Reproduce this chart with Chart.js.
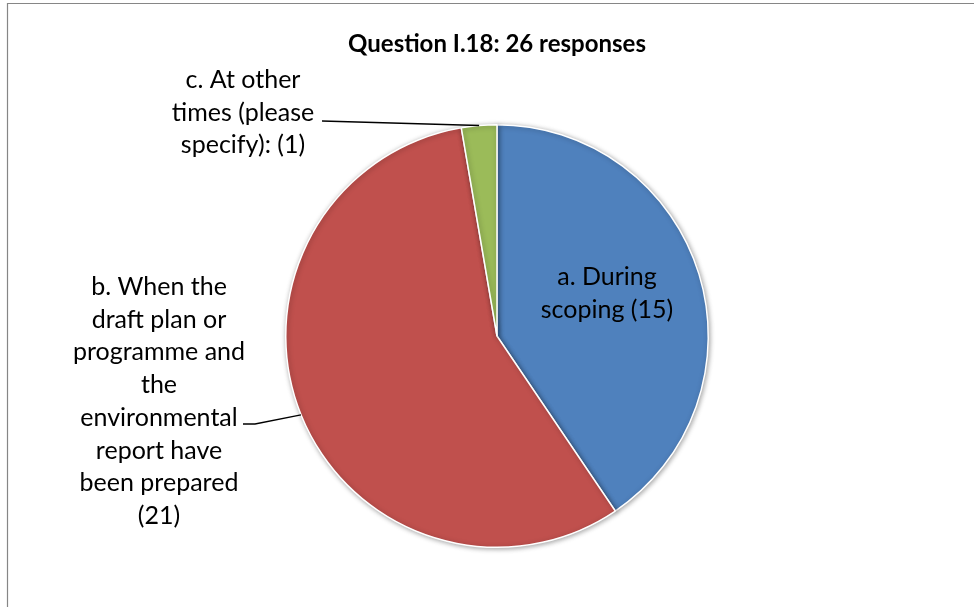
<!DOCTYPE html>
<html>
<head>
<meta charset="utf-8">
<script src="https://cdn.jsdelivr.net/npm/chart.js@4/dist/chart.umd.min.js"></script>
<style>
  body { margin: 0; background: #fff; }
  #wrap { width: 974px; height: 607px; }
</style>
</head>
<body>
<div id="wrap"><canvas id="graph_q18" width="974" height="607"></canvas></div>
<script>
/*------------------------------*/
/*      QUESTION I.18 PIE       */
/*------------------------------*/
var categories = [
  ['a. During', 'scoping (15)'],
  ['b. When the', 'draft plan or', 'programme and', 'the', 'environmental', 'report have', 'been prepared', '(21)'],
  ['c. At other', 'times (please', 'specify): (1)']
]
var responses = [15, 21, 1]
var colours = ['#4F81BD', '#C0504D', '#9BBB59']
var chartTitle = 'Question I.18: 26 responses'

var FONT = 'Lato, "Open Sans", sans-serif'

// where each label block sits, and where its leader line starts (null = inside the slice)
var labelLayout = [
  { x: 607, y: 277, line: null },
  { x: 159, y: 287, line: [[243, 424], [255, 424]] },
  { x: 243, y: 80, line: [[322, 121]] }
]

var framePlugin = {
  id: 'frame',
  beforeDraw: function (chart) {
    var c = chart.ctx
    c.save()
    c.fillStyle = '#fff'
    c.fillRect(0, 0, chart.width, chart.height)
    c.strokeStyle = '#868686'
    c.lineWidth = 1.2
    c.beginPath()
    c.moveTo(7.5, chart.height)
    c.lineTo(7.5, 3.5)
    c.lineTo(chart.width, 3.5)
    c.stroke()
    c.restore()
  }
}

var shadowPlugin = {
  id: 'pieShadow',
  beforeDatasetsDraw: function (chart) {
    var c = chart.ctx
    c.save()
    c.shadowColor = 'rgba(0,0,0,0.35)'
    c.shadowBlur = 5
    c.shadowOffsetX = 1
    c.shadowOffsetY = 1
  },
  afterDatasetsDraw: function (chart) {
    chart.ctx.restore()
  }
}

var labelPlugin = {
  id: 'sliceLabels',
  afterDraw: function (chart) {
    var c = chart.ctx
    var arcs = chart.getDatasetMeta(0).data
    c.save()
    c.font = '25px ' + FONT
    c.fillStyle = '#000'
    c.textAlign = 'center'
    c.textBaseline = 'middle'
    arcs.forEach(function (arc, i) {
      var lay = labelLayout[i]
      categories[i].forEach(function (txt, k) {
        c.fillText(txt, lay.x, lay.y + k * 32.7)
      })
      if (lay.line) {
        var p = arc.getProps(['x', 'y', 'startAngle', 'endAngle', 'outerRadius'], true)
        var mid = (p.startAngle + p.endAngle) / 2
        var ex = p.x + Math.cos(mid) * p.outerRadius
        var ey = p.y + Math.sin(mid) * p.outerRadius
        c.strokeStyle = '#000'
        c.lineWidth = 1.3
        c.beginPath()
        c.moveTo(lay.line[0][0], lay.line[0][1])
        for (var j = 1; j < lay.line.length; j++) c.lineTo(lay.line[j][0], lay.line[j][1])
        c.lineTo(ex, ey)
        c.stroke()
      }
    })
    c.restore()
  }
}

var ctx_q18 = document.getElementById('graph_q18').getContext('2d')

var data_q18 = {
  labels: categories.map(function (l) { return l.join(' ') }),
  datasets: [
    {
      data: responses,
      backgroundColor: colours,
      borderColor: '#fff',
      borderWidth: 1.5
    }
  ]
}

var config_q18 = {
  type: 'pie',
  data: data_q18,
  options: {
    responsive: false,
    animation: false,
    layout: { padding: { left: 285, right: 265, top: 0, bottom: 59 } },
    plugins: {
      legend: { display: false },
      tooltip: { enabled: false },
      title: {
        display: true,
        text: chartTitle,
        color: '#000',
        font: { family: FONT, size: 24, weight: 'bold', lineHeight: 1 },
        padding: { top: 32, bottom: 68 }
      }
    }
  },
  plugins: [framePlugin, shadowPlugin, labelPlugin]
}

var graph_q18 = new Chart(ctx_q18, config_q18)
/*------------------------------*/
</script>
</body>
</html>
